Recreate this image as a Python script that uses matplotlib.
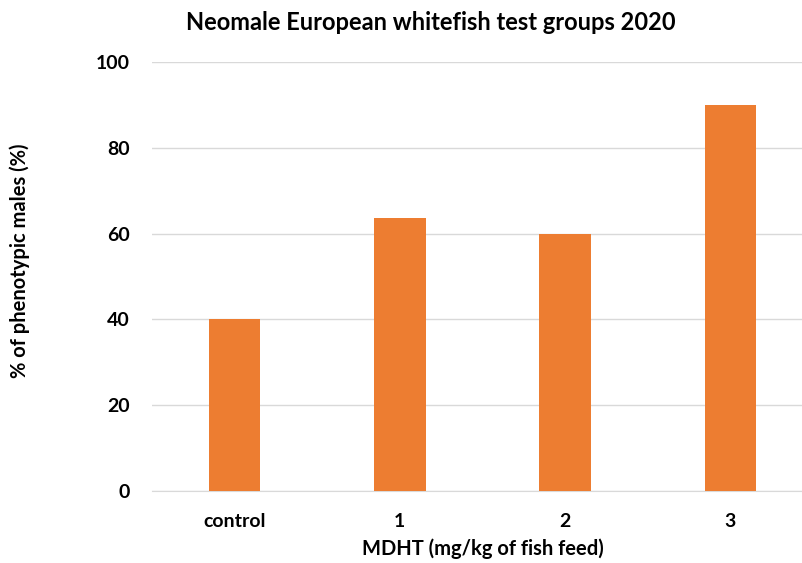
import matplotlib.pyplot as plt

categories = ['control', '1', '2', '3']
males_pct = [40, 63.6, 60, 90]
y_ticks = [0, 20, 40, 60, 80, 100]

plt.rcParams['font.family'] = ['Lato', 'DejaVu Sans']

fig = plt.figure(figsize=(8.03, 5.63), dpi=100)
# the plot area runs a bit past the right edge, as in the original
ax = fig.add_axes([152 / 803, 1 - 491 / 563, 661 / 803, (491 - 62) / 563])

x = range(len(categories))
ax.bar(x, males_pct, width=0.312, color='#ED7D31', zorder=3)

ax.set_xlim(-0.5, len(categories) - 0.5)
ax.set_ylim(0, 100)
ax.set_yticks(y_ticks)
ax.set_xticks(list(x))
ax.set_xticklabels(categories)
ax.grid(axis='y', color='#d9d9d9', linewidth=1, zorder=0)

for s in ['top', 'right', 'left']:
    ax.spines[s].set_visible(False)
ax.spines['bottom'].set_color('#d9d9d9')
ax.tick_params(axis='both', length=0, labelsize=14)
ax.tick_params(axis='x', pad=16)
ax.tick_params(axis='y', pad=16)
for lbl in ax.get_xticklabels() + ax.get_yticklabels():
    lbl.set_fontweight('bold')

fig.text(431 / 803, 1 - 22 / 563, 'Neomale European whitefish test groups 2020',
         fontsize=17, fontweight='bold', ha='center', va='center')
ax.set_xlabel('MDHT (mg/kg of fish feed)', fontsize=14.5, fontweight='bold')
ax.xaxis.set_label_coords((483 - 152) / 661, -(549 - 491) / 429)
ax.xaxis.label.set_va('center')
ax.set_ylabel('% of phenotypic males (%)', fontsize=14.5, fontweight='bold')
ax.yaxis.set_label_coords((20 - 152) / 661, (491 - 261) / 429)
ax.yaxis.label.set_va('center')

fig.savefig('out.png', dpi=100)
